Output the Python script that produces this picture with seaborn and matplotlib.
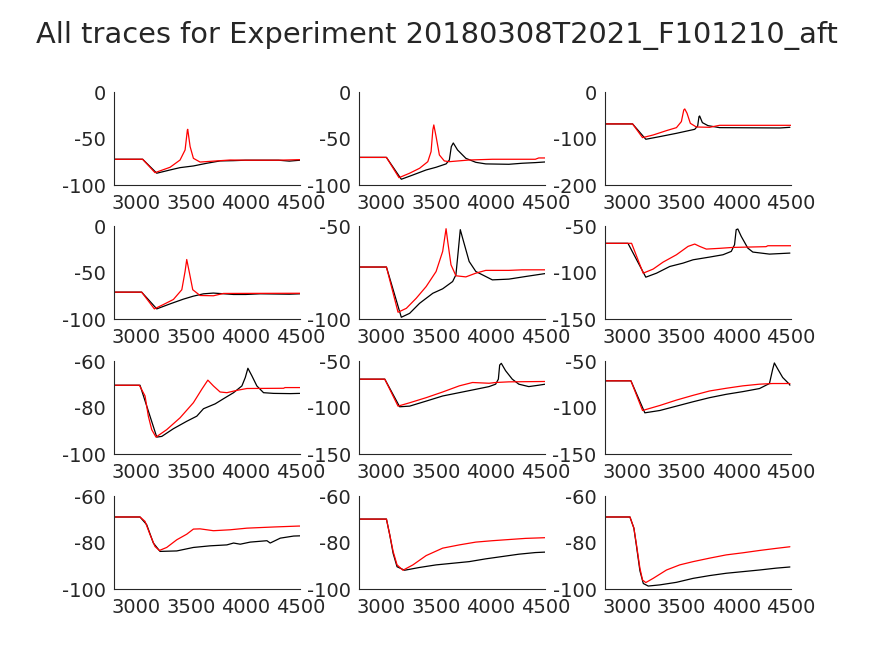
import matplotlib
matplotlib.use("Agg")
import matplotlib.pyplot as plt
import seaborn as sns
import pandas as pd

# ---------------- data (time in ms, voltage in mV) ----------------
p11_red_x = [2800, 3059, 3172, 3310, 3401, 3447, 3468, 3471, 3493, 3523, 3584, 3706, 3859, 4000, 4300, 4500]
p11_red_y = [-72, -72, -86.4, -80.6, -72.8, -62, -40.5, -39.8, -58.4, -71, -75, -74, -72.8, -73, -73, -72.4]
p11_blk_x = [2800, 3059, 3188, 3310, 3401, 3523, 3645, 3767, 3890, 4000, 4300, 4400, 4500]
p11_blk_y = [-72, -72, -87, -83.5, -81, -79.2, -76.3, -73.8, -73.5, -73, -73, -74, -73]

p12_red_x = [2800, 3048, 3163, 3260, 3351, 3426, 3456, 3472, 3481, 3502, 3532, 3577, 3623, 3804, 4016, 4409, 4440, 4500]
p12_red_y = [-70, -70, -91.8, -87, -81.7, -74.6, -63.8, -40.5, -35.1, -47.7, -67.4, -73.8, -74.6, -72.8, -72, -72, -70.6, -70.6]
p12_blk_x = [2800, 3048, 3184, 3290, 3411, 3502, 3593, 3623, 3641, 3659, 3698, 3774, 3865, 3956, 4167, 4288, 4409, 4500]
p12_blk_y = [-70, -70, -93.5, -88.9, -83.5, -80.6, -77, -72.8, -58.4, -54.5, -62, -71, -75.3, -77, -77.4, -76.3, -75.6, -74.9]

p13_red_x = [2800, 3052, 3143, 3240, 3362, 3453, 3498, 3520, 3529, 3550, 3580, 3635, 3756, 3847, 4500]
p13_red_y = [-68, -68, -97.5, -91.8, -82.4, -76, -63, -38, -35.8, -45.2, -66.7, -74.6, -75.3, -71, -71]
p13_blk_x = [2800, 3052, 3173, 3301, 3453, 3620, 3647, 3659, 3665, 3690, 3741, 3847, 4400, 4490]
p13_blk_y = [-68, -68, -101, -95.3, -88.2, -79.6, -72.4, -52.3, -50.9, -65.2, -71.7, -76, -76.7, -75.3]

p21_red_x = [2800, 3050, 3166, 3249, 3340, 3417, 3447, 3462, 3487, 3517, 3584, 3706, 3798, 4500]
p21_red_y = [-70.8, -70.8, -88.8, -84.1, -78.7, -68.2, -48.4, -35.7, -50.2, -68.2, -74.4, -74.7, -72.2, -72]
p21_blk_x = [2800, 3050, 3188, 3310, 3432, 3523, 3615, 3706, 3890, 4000, 4134, 4400, 4500]
p21_blk_y = [-70.8, -70.8, -88.8, -83.4, -78.3, -75.1, -72.6, -71.8, -73.3, -73.3, -72.6, -73, -72.6]

p22_red_x = [2800, 3048, 3154, 3230, 3320, 3411, 3502, 3562, 3593, 3608, 3638, 3683, 3774, 3865, 3956, 4167, 4288, 4500]
p22_red_y = [-71.9, -71.9, -96.2, -94.1, -88.7, -82.4, -74.3, -63.5, -51.3, -58.1, -70.7, -76.6, -77.2, -75.2, -73.7, -73.7, -73.4, -73.4]
p22_blk_x = [2800, 3048, 3184, 3260, 3351, 3472, 3562, 3653, 3683, 3704, 3723, 3744, 3804, 3865, 4016, 4167, 4319, 4500]
p22_blk_y = [-71.9, -71.9, -98.9, -96.8, -91.4, -86, -83.6, -79.7, -76.1, -63.5, -51.8, -56.3, -68.9, -74.3, -78.8, -78.4, -77, -75.4]

p23_red_x = [2800, 3043, 3149, 3240, 3331, 3453, 3559, 3620, 3665, 3726, 3847, 3969, 4272, 4288, 4500]
p23_red_y = [-68.3, -68.3, -100.4, -96, -88.5, -80.6, -71.6, -69.1, -71.6, -74.5, -73.7, -72.7, -71.9, -70.9, -70.9]
p23_blk_x = [2800, 3010, 3173, 3271, 3392, 3513, 3605, 3756, 3878, 3954, 3984, 3999, 4014, 4045, 4105, 4151, 4303, 4490]
p23_blk_y = [-68.3, -68.3, -104.7, -100.4, -93.2, -89.6, -86, -83.1, -80.6, -77, -69.8, -53.6, -52.9, -60.8, -73.4, -77.7, -79.9, -78.8]

p31_red_x = [2800, 3029, 3081, 3111, 3142, 3181, 3279, 3401, 3523, 3600, 3655, 3706, 3767, 3829, 3920, 4012, 4347, 4360, 4500]
p31_red_y = [-70.3, -70.3, -74.9, -83.6, -89.4, -92.6, -89.4, -84.3, -77.8, -72, -68.1, -70.6, -73.2, -73.5, -72.5, -71.7, -71.6, -71.3, -71.3]
p31_blk_x = [2800, 3035, 3188, 3234, 3340, 3462, 3554, 3615, 3722, 3798, 3890, 3966, 3997, 4021, 4057, 4103, 4164, 4256, 4408, 4495]
p31_blk_y = [-70.3, -70.3, -92.6, -92.3, -89, -85.8, -83.6, -80.4, -78.3, -76.1, -73.5, -70.6, -67, -63, -66.2, -70.6, -73.5, -73.8, -73.9, -73.8]

p32_red_x = [2800, 3033, 3154, 3260, 3411, 3562, 3714, 3835, 3986, 4046, 4167, 4500]
p32_red_y = [-69.2, -69.2, -98.2, -94.6, -89.1, -83, -76.4, -72.8, -73.6, -72.8, -72.1, -71.7]
p32_blk_x = [2800, 3033, 3169, 3260, 3411, 3562, 3714, 3865, 3986, 4046, 4071, 4083, 4098, 4137, 4198, 4258, 4349, 4440, 4500]
p32_blk_y = [-69.2, -69.2, -98.9, -98.2, -92.8, -87.3, -83.7, -80.1, -77.2, -74.6, -69.2, -54, -52.2, -60.1, -69.2, -74.6, -77.2, -75.7, -74.6]

p33_red_x = [2800, 3037, 3143, 3301, 3453, 3605, 3756, 3908, 4060, 4212, 4333, 4490]
p33_red_y = [-71, -71, -102.9, -97.5, -91.7, -86.6, -81.9, -79, -76.4, -74.6, -73.9, -73.9]
p33_blk_x = [2800, 3037, 3164, 3301, 3453, 3605, 3756, 3908, 4060, 4212, 4303, 4333, 4348, 4379, 4424, 4485, 4490]
p33_blk_y = [-71, -71, -105.4, -102.9, -98.2, -93.5, -89.1, -85.5, -82.6, -79.3, -73.9, -58.3, -51.8, -58.3, -67.4, -74.6, -75.7]

p41_red_x = [2800, 3035, 3081, 3127, 3172, 3212, 3279, 3371, 3462, 3523, 3584, 3706, 3859, 4012, 4256, 4485, 4500]
p41_red_y = [-68.9, -68.9, -70.8, -76.5, -81.6, -83.3, -82, -78.7, -76.3, -74.1, -74, -74.8, -74.4, -73.7, -73.2, -72.8, -72.8]
p41_blk_x = [2800, 3035, 3096, 3157, 3218, 3371, 3523, 3676, 3829, 3890, 3951, 4042, 4195, 4225, 4317, 4439, 4500]
p41_blk_y = [-68.9, -68.9, -72.2, -80.1, -83.7, -83.5, -82, -81.3, -80.9, -80.1, -80.6, -79.7, -79.1, -80.1, -78, -77.1, -77]

p42_red_x = [2800, 3048, 3078, 3109, 3145, 3199, 3290, 3411, 3562, 3714, 3865, 4016, 4167, 4319, 4500]
p42_red_y = [-69.8, -69.8, -76.5, -83.7, -89.5, -91.8, -89.5, -85.5, -82.3, -80.9, -79.7, -79.1, -78.6, -78.1, -77.8]
p42_blk_x = [2800, 3048, 3078, 3109, 3145, 3214, 3351, 3502, 3653, 3804, 3956, 4107, 4258, 4409, 4500]
p42_blk_y = [-69.8, -69.8, -76.5, -84.5, -90.3, -91.8, -90.6, -89.5, -88.8, -88.1, -86.9, -85.9, -84.9, -84.2, -84]

p43_red_x = [2800, 3028, 3064, 3088, 3119, 3143, 3173, 3240, 3362, 3483, 3605, 3756, 3908, 4060, 4212, 4364, 4490]
p43_red_y = [-68.9, -68.9, -73.7, -80.9, -90.9, -96, -97.1, -95.3, -91.7, -89.5, -88.1, -86.6, -85.2, -84.3, -83.3, -82.4, -81.7]
p43_blk_x = [2800, 3028, 3064, 3088, 3119, 3150, 3195, 3301, 3453, 3605, 3756, 3908, 4060, 4212, 4364, 4490]
p43_blk_y = [-68.9, -68.9, -73.7, -81.5, -92, -97.5, -98.6, -98.1, -97, -95.3, -94.1, -93.1, -92.4, -91.7, -90.9, -90.4]

x_ticks = [3000, 3500, 4000, 4500]
y_limits = [[(-100, 0), (-100, 0), (-200, 0)],
            [(-100, 0), (-100, -50), (-150, -50)],
            [(-100, -60), (-150, -50), (-150, -50)],
            [(-100, -60), (-100, -60), (-100, -60)]]
y_ticks = [[[-100, -50, 0], [-100, -50, 0], [-200, -100, 0]],
           [[-100, -50, 0], [-100, -50], [-150, -100, -50]],
           [[-100, -80, -60], [-150, -100, -50], [-150, -100, -50]],
           [[-100, -80, -60], [-100, -80, -60], [-100, -80, -60]]]
title_text = "All traces for Experiment 20180308T2021_F101210_aft"

traces = [
    [(p11_blk_x, p11_blk_y, p11_red_x, p11_red_y), (p12_blk_x, p12_blk_y, p12_red_x, p12_red_y), (p13_blk_x, p13_blk_y, p13_red_x, p13_red_y)],
    [(p21_blk_x, p21_blk_y, p21_red_x, p21_red_y), (p22_blk_x, p22_blk_y, p22_red_x, p22_red_y), (p23_blk_x, p23_blk_y, p23_red_x, p23_red_y)],
    [(p31_blk_x, p31_blk_y, p31_red_x, p31_red_y), (p32_blk_x, p32_blk_y, p32_red_x, p32_red_y), (p33_blk_x, p33_blk_y, p33_red_x, p33_red_y)],
    [(p41_blk_x, p41_blk_y, p41_red_x, p41_red_y), (p42_blk_x, p42_blk_y, p42_red_x, p42_red_y), (p43_blk_x, p43_blk_y, p43_red_x, p43_red_y)],
]

# ---------------- styling ----------------
sns.set_theme(style="white")
plt.rcParams['font.family'] = ['DejaVu Sans']
gray = "#262626"
plt.rcParams.update({
    "axes.edgecolor": gray, "xtick.color": gray, "ytick.color": gray,
    "text.color": gray, "axes.linewidth": 0.8,
    "axes.unicode_minus": False,
    "xtick.direction": "in", "ytick.direction": "in",
    "xtick.major.size": 3, "ytick.major.size": 3,
    "xtick.major.width": 0.7, "ytick.major.width": 0.7,
})

W, H = 874, 656
fig = plt.figure(figsize=(W / 100, H / 100), dpi=100)
col_left = [114.3, 359.3, 605.0]
row_bottom = [185.3, 319.3, 454.3, 589.3]
ax_w, ax_h = 186.0, 93.0

for r in range(4):
    for c in range(3):
        ax = fig.add_axes([col_left[c] / W, (H - row_bottom[r]) / H, ax_w / W, ax_h / H])
        bx, by, rx, ry = traces[r][c]
        dfb = pd.DataFrame({"t": bx, "v": by})
        dfr = pd.DataFrame({"t": rx, "v": ry})
        sns.lineplot(data=dfb, x="t", y="v", ax=ax, color="black", lw=0.9, sort=False)
        sns.lineplot(data=dfr, x="t", y="v", ax=ax, color="red", lw=0.9, sort=False)
        ax.set_xlim(2800, 4500)
        ax.set_ylim(*y_limits[r][c])
        ax.set_xticks(x_ticks)
        ax.set_yticks(y_ticks[r][c])
        ax.set_xlabel("")
        ax.set_ylabel("")
        ax.tick_params(labelsize=14, pad=6)
        for s in ["top", "right"]:
            ax.spines[s].set_visible(False)

fig.text(0.5, 1 - 35 / H, title_text, ha="center", va="center", fontsize=20.8)
fig.savefig("out.png", dpi=100)
